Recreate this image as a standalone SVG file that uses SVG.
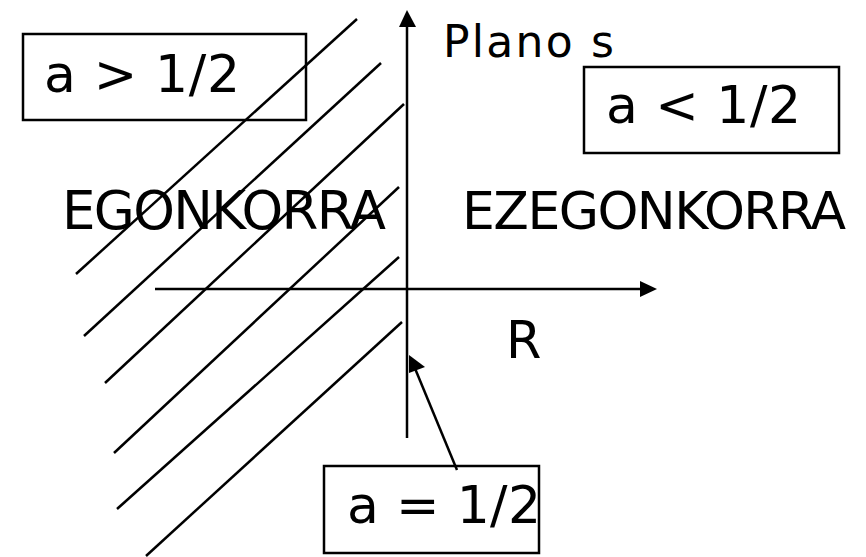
<svg xmlns="http://www.w3.org/2000/svg" width="866" height="557" viewBox="0 0 866 557">
  <style>
    .bg { fill: #ffffff; }
    .ln { stroke: #000; stroke-width: 2.5; fill: none; stroke-linecap: butt; }
    .box { stroke: #000; stroke-width: 2.5; fill: none; }
    .lbl { font-family: "DejaVu Sans", "Liberation Sans", sans-serif; fill: #000; }
  </style>
  <rect class="bg" x="0" y="0" width="866" height="557"/>

  <!-- hatched stable half-plane -->
  <g id="hatching">
    <line class="ln" x1="357" y1="19" x2="76" y2="274"/>
    <line class="ln" x1="381" y1="63" x2="84" y2="336"/>
    <line class="ln" x1="404" y1="104" x2="105" y2="383"/>
    <line class="ln" x1="399" y1="187" x2="114" y2="453"/>
    <line class="ln" x1="399" y1="257" x2="117" y2="509"/>
    <line class="ln" x1="402" y1="322" x2="146" y2="556"/>
  </g>

  <!-- axes and pointer -->
  <g id="connectors">
    <line class="ln" x1="407" y1="438" x2="407" y2="26"/>
    <polygon points="407,10 399,27 416,27" fill="#000"/>
    <line class="ln" x1="155" y1="289" x2="641" y2="289"/>
    <polygon points="657,289 640,281 640,297" fill="#000"/>
    <line class="ln" x1="457" y1="470" x2="414" y2="366"/>
    <polygon points="409,355 409,373 425,367" fill="#000"/>
  </g>

  <g id="plane-label">
    <text class="lbl" x="443" y="57" font-size="44" textLength="171">Plano s</text>
  </g>

  <g id="real-axis-label">
    <text class="lbl" x="506" y="358" font-size="51">R</text>
  </g>

  <g id="stable">
    <text class="lbl" x="62" y="229" font-size="53" textLength="324">EGONKORRA</text>
  </g>

  <g id="unstable">
    <text class="lbl" x="462" y="229" font-size="52" textLength="384">EZEGONKORRA</text>
  </g>

  <g id="a-greater">
    <rect class="box" x="23" y="34" width="283" height="86"/>
    <text class="lbl" x="44" y="92" font-size="52" textLength="196">a &gt; 1/2</text>
  </g>

  <g id="a-less">
    <rect class="box" x="584" y="67" width="255" height="86"/>
    <text class="lbl" x="606" y="123" font-size="52" textLength="195">a &lt; 1/2</text>
  </g>

  <g id="a-equal">
    <rect class="box" x="324" y="466" width="215" height="87"/>
    <text class="lbl" x="347" y="523" font-size="52" textLength="194">a = 1/2</text>
  </g>
</svg>
